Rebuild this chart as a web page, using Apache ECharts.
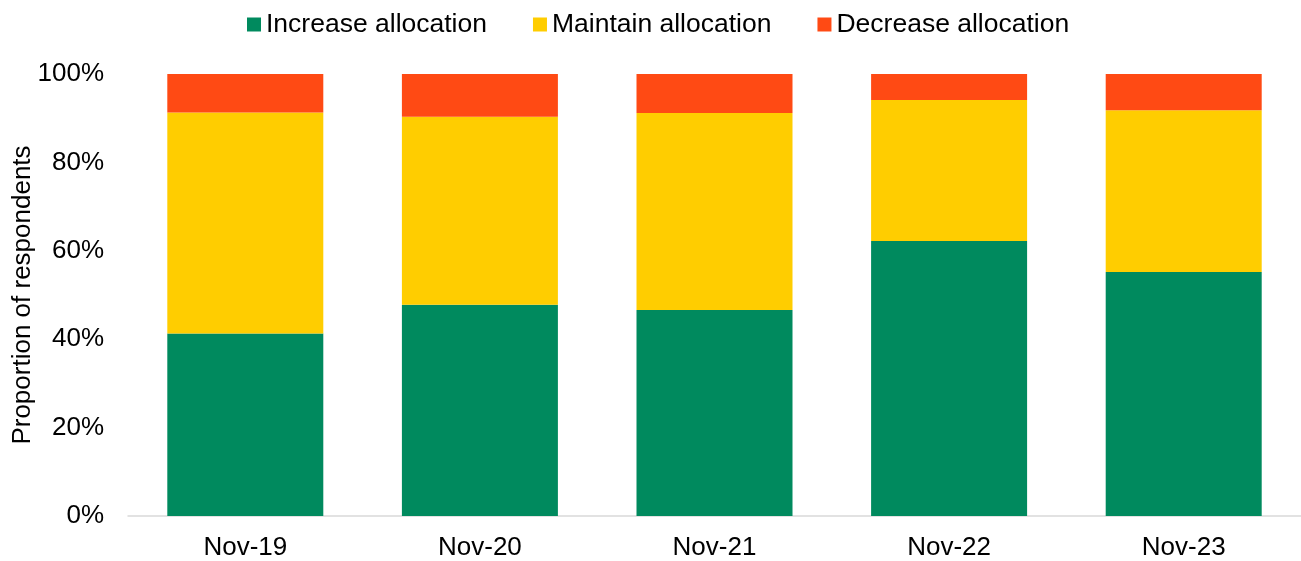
<!DOCTYPE html>
<html>
<head>
<meta charset="utf-8">
<script src="https://cdn.jsdelivr.net/npm/echarts@6/dist/echarts.min.js"></script>
<style>
html,body{margin:0;padding:0;background:#fff;}
#chart{width:1301px;height:561px;}
</style>
</head>
<body>
<div id="chart"></div>
<script>
const categories = ['Nov-19', 'Nov-20', 'Nov-21', 'Nov-22', 'Nov-23'];
const increaseAllocation = [41.3, 47.8, 46.6, 62.2, 55.2];
const maintainAllocation = [50.0, 42.5, 44.6, 31.9, 36.6];
const decreaseAllocation = [8.7, 9.7, 8.8, 5.9, 8.2];
const yTicks = [0, 20, 40, 60, 80, 100];

const FONT = 'Liberation Sans, Arial, sans-serif';
const chart = echarts.init(document.getElementById('chart'));
chart.setOption({
  animation: false,
  textStyle: { fontFamily: FONT },
  legend: {
    top: 6,
    left: 242,
    itemWidth: 14,
    itemHeight: 14,
    itemGap: 46,
    icon: 'rect',
    textStyle: { fontSize: 26.5, color: '#000', fontFamily: FONT },
    data: ['Increase allocation', 'Maintain allocation', 'Decrease allocation']
  },
  grid: { left: 128, right: 0, top: 74, bottom: 45, containLabel: false, outerBoundsMode: 'none' },
  xAxis: {
    type: 'category',
    data: categories,
    axisLine: { lineStyle: { color: '#d9d9d9', width: 1.5 } },
    axisTick: { show: false },
    axisLabel: { fontSize: 26, color: '#000', margin: 19, fontFamily: FONT }
  },
  yAxis: {
    type: 'value',
    min: yTicks[0],
    max: yTicks[yTicks.length - 1],
    interval: 20,
    name: 'Proportion of respondents',
    nameLocation: 'middle',
    nameGap: 92,
    nameRotate: 90,
    nameMoveOverlap: false,
    nameTextStyle: { fontSize: 26, color: '#000', fontFamily: FONT },
    axisLine: { show: false },
    axisTick: { show: false },
    splitLine: { show: false },
    axisLabel: { fontSize: 26, color: '#000', margin: 24, formatter: '{value}%', fontFamily: FONT }
  },
  series: [
    { name: 'Increase allocation', type: 'bar', stack: 'a', barWidth: 156, data: increaseAllocation, itemStyle: { color: '#008A5E' } },
    { name: 'Maintain allocation', type: 'bar', stack: 'a', barWidth: 156, data: maintainAllocation, itemStyle: { color: '#FFCD00' } },
    { name: 'Decrease allocation', type: 'bar', stack: 'a', barWidth: 156, data: decreaseAllocation, itemStyle: { color: '#FF4A14' } }
  ]
});
</script>
</body>
</html>
